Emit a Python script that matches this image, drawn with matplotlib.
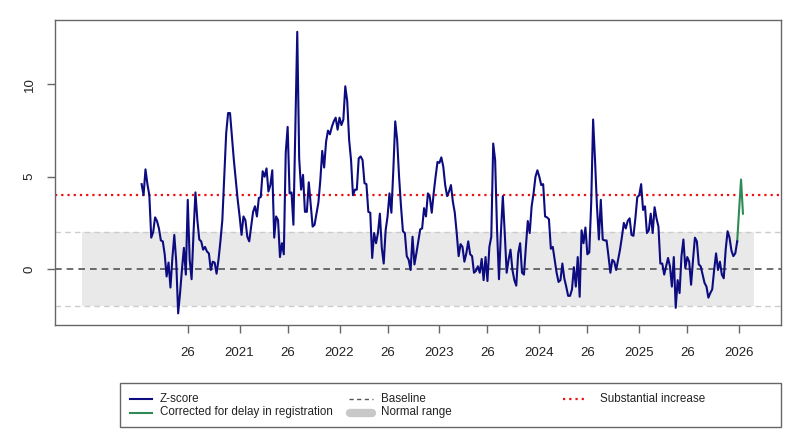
import matplotlib
matplotlib.use("Agg")
import matplotlib.pyplot as plt
from matplotlib.patches import Rectangle

plt.rcParams["font.family"] = ["Liberation Sans", "DejaVu Sans"]

# weekly z-scores; week index 0 = week 1 of 2020, series starts at week 2
first_index = 1
z_2020 = [4.6, 4.0, 5.4, 4.6, 4.0, 1.7, 2.0, 2.8, 2.6, 2.2, 1.55, 1.5, 0.8, -0.4, 0.35,
          -1.0, 0.6, 1.85, 0.4, -2.4, -1.3, 0.0, 1.15, -0.3, 3.75, 0.5, -0.55, 1.95, 4.15,
          2.65, 1.6, 1.5, 1.05, 1.2, 0.95, 0.85, -0.05, 0.4, 0.35, -0.25, 0.5, 1.5, 2.65,
          5.0, 7.35, 8.45, 8.45, 7.15, 5.9, 4.8, 3.75]
z_2021 = [2.85, 1.85, 2.85, 2.65, 1.75, 1.5, 2.3, 3.1, 3.4, 2.85, 3.85, 3.9, 5.3, 5.0,
          5.45, 4.2, 4.55, 5.35, 1.7, 2.85, 2.65, 0.65, 1.4, 0.8, 6.3, 7.7, 4.1, 4.15, 2.4,
          7.5, 12.85, 6.0, 4.3, 5.1, 3.1, 3.1, 4.7, 3.5, 2.3, 2.4, 3.0, 3.6, 4.8, 6.4, 5.5,
          6.9, 7.5, 7.3, 7.7, 8.0, 8.2, 7.55]
z_2022 = [8.2, 7.8, 8.1, 9.9, 9.1, 7.0, 5.9, 4.0, 4.3, 4.3, 6.0, 6.1, 5.9, 4.65, 4.6, 3.1,
          3.05, 0.6, 1.95, 1.4, 1.95, 3.0, 1.15, 0.3, 2.1, 2.85, 4.1, 3.05, 5.35, 8.0, 7.0,
          5.0, 3.4, 2.05, 1.95, 0.7, 0.5, -0.05, 1.75, 0.25, 0.85, 1.5, 2.15, 2.2, 3.3,
          2.85, 4.1, 3.9, 3.05, 4.1, 5.0, 5.8]
z_2023 = [5.75, 6.05, 5.55, 4.55, 3.95, 4.2, 4.55, 3.65, 3.05, 1.95, 0.7, 1.35, 1.2, 0.4,
          0.85, 1.5, 0.8, 0.7, -0.2, -0.1, 0.15, -0.2, 0.55, -0.6, 0.65, -0.65, 1.2, 1.75,
          6.8, 5.9, 2.1, -0.55, 1.95, 3.95, 1.95, -0.2, 0.5, 1.05, -0.05, -0.6, -0.9, 0.85,
          1.4, -0.2, -0.3, 1.2, 2.6, 1.95, 3.4, 4.1, 5.0, 5.35]
z_2024 = [5.0, 4.55, 4.6, 2.85, 2.8, 2.7, 1.1, 1.2, 0.5, -0.2, -0.7, -0.6, 0.3, -0.5,
          -0.95, -1.45, -1.45, -1.1, 0.1, -0.95, 0.65, -1.5, 2.1, 1.4, 2.25, 0.8, 0.9, 3.55,
          8.1, 5.9, 3.4, 1.6, 3.75, 1.6, 1.55, 1.55, 0.7, -0.2, 0.5, 0.4, -0.05, 0.5, 1.05,
          1.75, 2.5, 2.2, 2.6, 2.75, 1.85, 1.8, 2.75, 3.9]
z_2025 = [4.0, 4.6, 3.2, 3.4, 1.95, 2.1, 3.0, 1.95, 3.35, 2.75, 2.3, 0.3, 0.3, -0.3, 0.15,
          0.6, 0.15, -0.95, 0.65, -2.1, -0.6, -1.3, 0.7, 1.6, 0.05, 0.65, 0.4, -0.85, 0.5,
          1.7, 1.5, 0.25, 0.15, -0.3, -0.75, -0.95, -1.55, -1.3, -1.1, -0.05, 0.85, -0.05,
          0.4, -0.3, -0.5, 1.05, 2.05, 1.7, 1.0, 0.7, 0.85, 1.5]

# corrected for delay in registration (last weeks)
corrected_index = 311
z_corrected = [1.5, 3.2, 4.85, 3.0]

# reference lines and normal range
baseline = 0
substantial = 4
normal_low, normal_high = -2, 2
normal_weeks = (-30, 320)

years = [2020, 2021, 2022, 2023, 2024, 2025, 2026]
weeks_per_year = 52
mid_week = 26

z = z_2020 + z_2021 + z_2022 + z_2023 + z_2024 + z_2025
x = list(range(first_index, first_index + len(z)))
xc = list(range(corrected_index, corrected_index + len(z_corrected)))

# ticks: "26" mid-year, year label at week 1
ticks, labels = [], []
for i, yr in enumerate(years):
    start = i * weeks_per_year
    if yr != years[0]:
        ticks.append(start)
        labels.append(str(yr))
    if yr != years[-1]:
        ticks.append(start + mid_week - 1)
        labels.append(str(mid_week))

fig = plt.figure(figsize=(8, 4.34), dpi=100)
ax = fig.add_axes([55 / 800, 1 - 325 / 434, 726 / 800, 305 / 434])

frame = "#666666"
red_dots = (0, (1.0, 1.8))
ax.fill_between(normal_weeks, normal_low, normal_high, color="#e9e9e9", lw=0, zorder=1)
ax.axhline(normal_low, color="#cccccc", ls=(0, (4, 3)), lw=1, zorder=2)
ax.axhline(normal_high, color="#cccccc", ls=(0, (4, 3)), lw=1, zorder=2)
ax.axhline(baseline, color="#555555", ls=(0, (4, 3)), lw=1.2, zorder=2)
ax.axhline(substantial, color="#ee1111", ls=red_dots, lw=1.6, zorder=2)

ax.plot(xc, z_corrected, color="#2e8b57", lw=1.5, zorder=3)
ax.plot(x, z, color="#0c0c80", lw=1.5, zorder=4)

ax.set_xlim(-44.1, 333.8)
ax.set_ylim(-3.03, 13.49)
ax.set_xticks(ticks)
ax.set_xticklabels(labels)
ax.set_yticks([0, 5, 10])
ax.set_yticklabels(["0", "5", "10"], rotation=90, va="center", ha="right")
ax.tick_params(axis="both", colors=frame, labelcolor="#222222", length=6, width=1,
               labelsize=9.5)
ax.tick_params(axis="x", pad=10)
ax.tick_params(axis="y", pad=8)
for s in ax.spines.values():
    s.set_color(frame)
    s.set_linewidth(1)

# legend drawn in pixel coordinates, R style equal columns
lg = fig.add_axes([0, 0, 1, 1], zorder=5)
lg.set_xlim(0, 800)
lg.set_ylim(434, 0)
lg.axis("off")
lg.add_patch(Rectangle((120, 383), 661, 44, fill=False, edgecolor=frame, lw=1))
r1, r2 = 398.5, 412.5
fs = 8.4
lg.plot([130, 152], [r1, r1], color="#0c0c80", lw=1.5)
lg.text(160, r1, "Z-score", va="center", ha="left", fontsize=fs, color="#222222")
lg.plot([130, 152], [r2, r2], color="#2e8b57", lw=1.5)
lg.text(160, r2, "Corrected for delay in registration", va="center", ha="left",
        fontsize=fs, color="#222222")
lg.plot([349, 373], [r1, r1], color="#555555", ls=(0, (3, 2.5)), lw=1)
lg.text(381, r1, "Baseline", va="center", ha="left", fontsize=fs, color="#222222")
lg.plot([350, 372], [r2, r2], color="#c8c8c8", lw=6, solid_capstyle="round")
lg.text(381, r2, "Normal range", va="center", ha="left", fontsize=fs, color="#222222")
lg.plot([563, 586], [r1, r1], color="#ee1111", ls=red_dots, lw=1.6)
lg.text(600, r1, "Substantial increase", va="center", ha="left", fontsize=fs,
        color="#222222")

fig.savefig("out.png", dpi=100)
